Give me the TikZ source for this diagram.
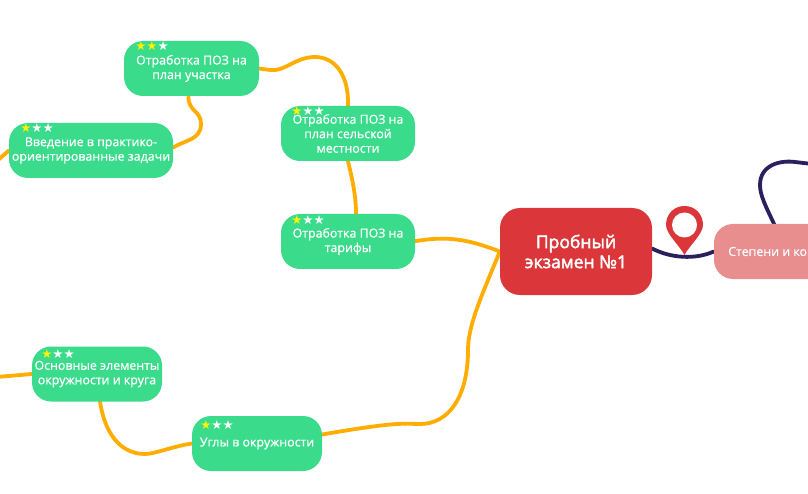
\documentclass[tikz,border=0pt]{standalone}
\usepackage{fontspec}
\setmainfont{Open Sans}[RawFeature={embolden=0.6}]
\newfontfamily\rootfont{Open Sans}[RawFeature={embolden=2.4}]
\newfontfamily\starfont{DejaVu Sans}
\usetikzlibrary{%
    backgrounds,
    positioning
}
\definecolor{topicgreen}{HTML}{3BDB8C}
\definecolor{rootred}{HTML}{DB3639}
\definecolor{linkorange}{HTML}{FFAD00}
\definecolor{linknavy}{HTML}{2B1F5E}
\definecolor{softred}{HTML}{E88E8E}
\tikzset{
    topic/.style={fill=topicgreen, rounded corners=19pt, minimum width=#1, minimum height=55pt,
        inner sep=0pt, align=center, text=white, font=\fontsize{12.4}{14.5}\selectfont,
        execute at begin node=\vspace*{3pt}},
    topic/.default=130pt,
    rootbox/.style={fill=rootred, rounded corners=20pt, minimum width=152pt, minimum height=87pt,
        align=center, text=white, font=\rootfont\fontsize{17.5}{20}\selectfont},
    sidebox/.style={fill=softred, rounded corners=19pt, minimum width=180pt, minimum height=55pt,
        inner sep=0pt},
    sidetext/.style={text=white, inner sep=0pt, font=\fontsize{12.4}{15}\selectfont},
    stars/.style={inner sep=0pt, font=\starfont\fontsize{12.4}{12.4}\selectfont},
    link/.style={draw=linkorange, line width=3.8pt, line cap=round},
    navylink/.style={draw=linknavy, line width=3.8pt, line cap=round}
}
\newcommand{\OneStar}{\textcolor{yellow}{★}\textcolor{white}{★★}}
\newcommand{\TwoStars}{\textcolor{yellow}{★★}\textcolor{white}{★}}
\begin{document}
\begin{tikzpicture}[x=1pt, y=-1pt]
    \clip (0,0) rectangle (808,494);

    \node[topic=135pt] (plot)   at (191.5,68.5)  {Отработка ПОЗ на\\план участка};
    \node[topic=164pt] (intro)  at (91,150.5)    {Введение в практико-\\ориентированные задачи};
    \node[topic=134pt] (rural)  at (348,133.5)   {Отработка ПОЗ на\\план сельской\\местности};
    \node[topic=134pt] (tariff) at (348,241.5)   {Отработка ПОЗ на\\тарифы};
    \node[topic]       (circle) at (97,374)      {Основные элементы\\окружности и круга};
    \node[topic]       (angles) at (257,443.5)   {Углы в окружности};
    \node[rootbox]     (exam)   at (576,251.5)   {Пробный\\экзамен №1};
    \node[sidebox]     (powers) at (804,251.5)   {};
    \node[sidetext, anchor=west] (powerstext) at (728,251.5) {Степени и ко};

    \node[stars] (plotstars)   at (152,46.5)  {\TwoStars};
    \node[stars] (introstars)  at (37,128.5)  {\OneStar};
    \node[stars] (ruralstars)  at (308,111)   {\OneStar};
    \node[stars] (tariffstars) at (308,220.5) {\OneStar};
    \node[stars] (circlestars) at (58,354.5)  {\OneStar};
    \node[stars] (anglesstars) at (217,425.5) {\OneStar};

    \coordinate (introend)  at (-3,161);
    \coordinate (circleend) at (-3,377);
    \coordinate (powersend) at (812,164);

    \begin{pgfonlayer}{background}
        \draw[link] (exam.west) .. controls (465,238) and (445,236) .. ([xshift=-2pt]tariff.east);
        \draw[link] (exam.west) .. controls (482,295) and (468,325) .. (468,350)
            .. controls (468,395) and (450,424) .. (420,424)
            .. controls (405,424) and (400,421) .. ([yshift=9pt]angles.east);
        \draw[link] ([xshift=8pt]tariff.north) .. controls (356,195) and (352,178) .. (rural.south);
        \draw[link] (rural.north) .. controls (349,75) and (335,57) .. (315,57)
            .. controls (295,57) and (285,72) .. (270,70) -- (plot.east);
        \draw[link] ([xshift=-3pt]plot.south) .. controls (188,112) and (201,110) .. (201,124)
            .. controls (201,140) and (185,140) .. ([yshift=3pt]intro.east);
        \draw[link] (intro.west) -- (introend);
        \draw[link] (circle.west) -- (circleend);
        \draw[link] ([xshift=3pt]circle.south) .. controls (106,440) and (125,454) .. (145,454)
            .. controls (155,454) and (170,447) .. (angles.west);
        \draw[navylink] ([yshift=3pt]exam.east) .. controls (670,258) and (695,260) .. (powers.west);
        \draw[navylink] (776,228) .. controls (765,205) and (760,195) .. (760,185)
            .. controls (760,165) and (780,160) .. (795,162) -- (powersend);
    \end{pgfonlayer}

    % map pin
    \fill[rootred] (684.5,255) .. controls (680,246) and (666,234) .. (666,225)
        .. controls (666,214) and (674,206) .. (684.5,206)
        .. controls (695,206) and (703,214) .. (703,225)
        .. controls (703,234) and (689,246) .. (684.5,255) -- cycle;
    \fill[white] (684.5,225) circle (12.5pt);
\end{tikzpicture}
\end{document}
